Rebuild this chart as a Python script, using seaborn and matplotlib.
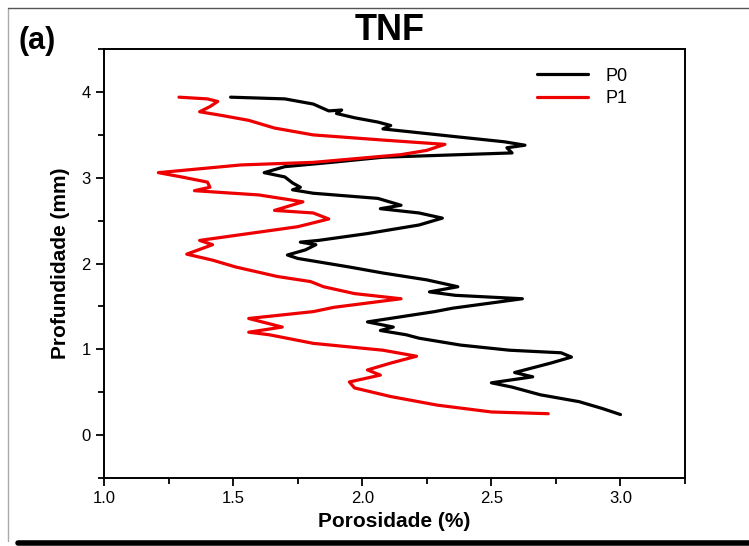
import numpy as np
import pandas as pd
import matplotlib
matplotlib.use("Agg")
import matplotlib.pyplot as plt
import seaborn as sns
from matplotlib.lines import Line2D
from matplotlib.ticker import MultipleLocator

# P0 profile (porosity %, depth mm), traced top to bottom
p0_poro = [1.49, 1.70, 1.81, 1.87, 1.92, 1.90, 1.97, 2.06, 2.11, 2.08, 2.36, 2.55,
           2.63, 2.56, 2.58, 2.08, 1.88, 1.70, 1.62, 1.70, 1.73, 1.76, 1.73,
           1.81, 2.06, 2.15, 2.07, 2.22, 2.31, 2.22, 2.02, 1.83, 1.76, 1.82, 1.78,
           1.71, 1.75, 1.95, 2.08, 2.25, 2.37, 2.26, 2.36, 2.62, 2.35, 2.28, 2.15,
           2.02, 2.12, 2.07, 2.17, 2.22, 2.38, 2.57, 2.77, 2.81, 2.73, 2.59, 2.66,
           2.50, 2.58, 2.69, 2.84, 2.93, 3.00]
p0_depth = [3.94, 3.92, 3.86, 3.78, 3.79, 3.75, 3.70, 3.65, 3.61, 3.57, 3.48, 3.42,
            3.38, 3.35, 3.29, 3.24, 3.18, 3.13, 3.06, 3.01, 2.94, 2.89, 2.86,
            2.82, 2.76, 2.68, 2.64, 2.59, 2.53, 2.45, 2.35, 2.27, 2.25, 2.22, 2.16,
            2.10, 2.06, 1.96, 1.89, 1.81, 1.73, 1.67, 1.63, 1.59, 1.48, 1.44, 1.38,
            1.32, 1.26, 1.22, 1.17, 1.13, 1.05, 0.99, 0.96, 0.91, 0.84, 0.73, 0.68,
            0.61, 0.56, 0.47, 0.39, 0.31, 0.24]

# P1 profile
p1_poro = [1.29, 1.40, 1.44, 1.41, 1.37, 1.45, 1.56, 1.66, 1.81, 2.08, 2.32, 2.25,
           2.15, 1.81, 1.53, 1.21, 1.30, 1.40, 1.41, 1.35,
           1.60, 1.77, 1.66, 1.81, 1.87, 1.75, 1.56, 1.37, 1.42, 1.32, 1.42, 1.51,
           1.67, 1.80, 1.85, 1.97, 2.15, 1.89, 1.81, 1.56, 1.69, 1.56,
           1.64, 1.81, 2.08, 2.21, 2.11, 2.02, 2.07, 1.95, 1.97, 2.11, 2.29, 2.50, 2.72]
p1_depth = [3.94, 3.92, 3.89, 3.83, 3.77, 3.73, 3.67, 3.58, 3.50, 3.44, 3.39, 3.32,
            3.27, 3.18, 3.15, 3.06, 3.01, 2.95, 2.89, 2.85,
            2.80, 2.72, 2.62, 2.59, 2.52, 2.43, 2.35, 2.27, 2.22, 2.11, 2.04, 1.96,
            1.85, 1.79, 1.73, 1.65, 1.59, 1.49, 1.44, 1.36, 1.26, 1.20,
            1.17, 1.07, 0.99, 0.92, 0.84, 0.76, 0.70, 0.62, 0.55, 0.45, 0.35, 0.27, 0.25]

df = pd.concat([
    pd.DataFrame({"Porosidade": p0_poro, "Profundidade": p0_depth, "Amostra": "P0"}),
    pd.DataFrame({"Porosidade": p1_poro, "Profundidade": p1_depth, "Amostra": "P1"}),
], ignore_index=True)

sns.set_style("ticks")
plt.rcParams["font.family"] = ["Liberation Sans", "DejaVu Sans"]
plt.rcParams["text.color"] = "black"
plt.rcParams["axes.labelcolor"] = "black"
plt.rcParams["xtick.color"] = "black"
plt.rcParams["ytick.color"] = "black"

fig = plt.figure(figsize=(7.49, 5.46), dpi=100)
ax = fig.add_axes([0.139, 0.1245, 0.7756, 0.7855])

sns.lineplot(data=df, x="Porosidade", y="Profundidade", hue="Amostra",
             palette={"P0": "black", "P1": "#ee0000"}, sort=False,
             estimator=None, linewidth=2.3, ax=ax)

ax.set_xlim(1.0, 3.25)
ax.set_ylim(-0.5, 4.5)
ax.xaxis.set_major_locator(MultipleLocator(0.5))
ax.xaxis.set_minor_locator(MultipleLocator(0.25))
ax.yaxis.set_major_locator(MultipleLocator(1))
ax.yaxis.set_minor_locator(MultipleLocator(0.5))
ax.set_xticks([1.0, 1.5, 2.0, 2.5, 3.0])
ax.set_xticklabels(["1.0", "1.5", "2.0", "2.5", "3.0"])
ax.tick_params(which="major", direction="out", length=6, width=1.3, labelsize=12)
ax.tick_params(which="minor", direction="out", length=4, width=1.3)
for s in ax.spines.values():
    s.set_linewidth(1.4)
    s.set_color("black")

ax.set_xlabel("Porosidade (%)", fontsize=15, fontweight="bold", labelpad=4)
ax.set_ylabel("Profundidade (mm)", fontsize=15, fontweight="bold", labelpad=8)

leg = ax.legend(loc="upper right", frameon=False, fontsize=13, handlelength=2.8,
                handletextpad=1.0, labelspacing=0.3, bbox_to_anchor=(0.93, 0.995))
for h in leg.get_lines():
    h.set_linewidth(2.3)

fig.text(0.52, 0.945, "TNF", ha="center", va="center", fontsize=26, fontweight="bold")
fig.text(0.025, 0.925, "(a)", ha="left", va="center", fontsize=22, fontweight="bold")

# figure frame: grey left/top border and heavy bottom rule
fig.add_artist(Line2D([0.011, 0.011], [0.01, 0.985], transform=fig.transFigure,
                      color="#aaaaaa", linewidth=1))
fig.add_artist(Line2D([0.011, 1.0], [0.985, 0.985], transform=fig.transFigure,
                      color="#555555", linewidth=1))
fig.add_artist(Line2D([0.024, 1.0], [0.006, 0.006], transform=fig.transFigure,
                      color="black", linewidth=4))

fig.savefig("out.png", dpi=100)
